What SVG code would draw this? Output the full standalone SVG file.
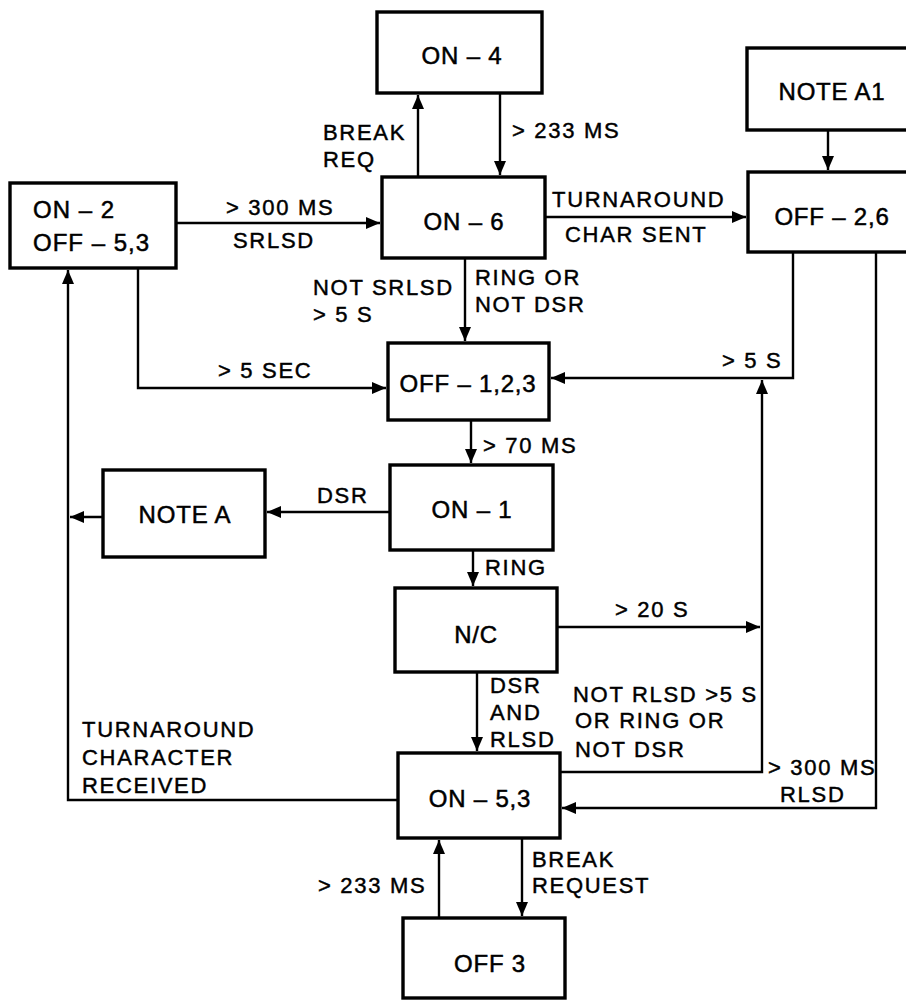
<svg xmlns="http://www.w3.org/2000/svg" width="906" height="1000" viewBox="0 0 906 1000">
<defs>
<style>
.box{fill:#fff;stroke:#000;stroke-width:3.4}
.n{font-family:"Liberation Sans",Arial,sans-serif;font-size:24px;letter-spacing:0.8px;fill:#000;stroke:#000;stroke-width:0.5;text-anchor:middle}
.nl{font-family:"Liberation Sans",Arial,sans-serif;font-size:24px;letter-spacing:1px;fill:#000;stroke:#000;stroke-width:0.5}
.l{font-family:"Liberation Sans",Arial,sans-serif;font-size:22px;letter-spacing:1.7px;fill:#000;stroke:#000;stroke-width:0.45}
.c{fill:none;stroke:#000;stroke-width:2.4}
</style>
<marker id="a" viewBox="0 0 14 12" refX="14" refY="6" markerWidth="14" markerHeight="12" orient="auto" markerUnits="userSpaceOnUse"><path d="M0,0 L14,6 L0,12 z" fill="#000"/></marker>
</defs>
<rect width="906" height="1000" fill="#fff"/>
<g id="connectors">
<path class="c" d="M418,177 V95" marker-end="url(#a)"/>
<path class="c" d="M500,93 V175" marker-end="url(#a)"/>
<path class="c" d="M176,223 H380" marker-end="url(#a)"/>
<path class="c" d="M545,217 H746" marker-end="url(#a)"/>
<path class="c" d="M828,130 V170" marker-end="url(#a)"/>
<path class="c" d="M465,258 V341" marker-end="url(#a)"/>
<path class="c" d="M138,268 V388 H386" marker-end="url(#a)"/>
<path class="c" d="M793,252 V378 H551" marker-end="url(#a)"/>
<path class="c" d="M471,420 V463" marker-end="url(#a)"/>
<path class="c" d="M390,512 H267" marker-end="url(#a)"/>
<path class="c" d="M103,517 H70" marker-end="url(#a)"/>
<path class="c" d="M398,800 H68 V270" marker-end="url(#a)"/>
<path class="c" d="M473,550 V586" marker-end="url(#a)"/>
<path class="c" d="M557,627 H760" marker-end="url(#a)"/>
<path class="c" d="M560,772 H762 V380" marker-end="url(#a)"/>
<path class="c" d="M477,672 V751" marker-end="url(#a)"/>
<path class="c" d="M876,252 V808 H562" marker-end="url(#a)"/>
<path class="c" d="M439,918 V840" marker-end="url(#a)"/>
<path class="c" d="M522,838 V916" marker-end="url(#a)"/>
</g>
<g id="on4"><rect class="box" x="377" y="12" width="165" height="81"/><text class="n" x="462" y="64">ON – 4</text></g>
<g id="on6"><rect class="box" x="382" y="177" width="163" height="81"/><text class="n" x="464" y="230">ON – 6</text></g>
<g id="on2"><rect class="box" x="10" y="183" width="166" height="85"/><text class="nl" x="33" y="218">ON – 2</text><text class="nl" x="33" y="251">OFF – 5,3</text></g>
<g id="notea1"><rect class="box" x="747" y="48" width="170" height="82"/><text class="n" x="832" y="100">NOTE A1</text></g>
<g id="off26"><rect class="box" x="748" y="172" width="170" height="80"/><text class="n" x="832" y="225">OFF – 2,6</text></g>
<g id="off123"><rect class="box" x="388" y="343" width="161" height="77"/><text class="n" x="468" y="392">OFF – 1,2,3</text></g>
<g id="on1"><rect class="box" x="390" y="465" width="163" height="85"/><text class="n" x="472" y="518">ON – 1</text></g>
<g id="notea"><rect class="box" x="103" y="470" width="162" height="87"/><text class="n" x="185" y="523">NOTE A</text></g>
<g id="nc"><rect class="box" x="395" y="588" width="162" height="84"/><text class="n" x="476" y="643">N/C</text></g>
<g id="on53"><rect class="box" x="398" y="753" width="162" height="85"/><text class="n" x="480" y="807">ON – 5,3</text></g>
<g id="off3"><rect class="box" x="403" y="918" width="162" height="80"/><text class="n" x="490" y="972">OFF 3</text></g>
<g id="labels">
<text class="l" x="323" y="140">BREAK</text>
<text class="l" x="323" y="167">REQ</text>
<text class="l" x="512" y="138">&gt; 233 MS</text>
<text class="l" x="226" y="215">&gt; 300 MS</text>
<text class="l" x="233" y="248">SRLSD</text>
<text class="l" x="552" y="207">TURNAROUND</text>
<text class="l" x="565" y="242">CHAR SENT</text>
<text class="l" x="313" y="295">NOT SRLSD</text>
<text class="l" x="313" y="322">&gt; 5 S</text>
<text class="l" x="475" y="285">RING OR</text>
<text class="l" x="475" y="312">NOT DSR</text>
<text class="l" x="218" y="378">&gt; 5 SEC</text>
<text class="l" x="722" y="368">&gt; 5 S</text>
<text class="l" x="483" y="453">&gt; 70 MS</text>
<text class="l" x="317" y="503">DSR</text>
<text class="l" x="485" y="575">RING</text>
<text class="l" x="615" y="617">&gt; 20 S</text>
<text class="l" x="490" y="693">DSR</text>
<text class="l" x="490" y="720">AND</text>
<text class="l" x="490" y="747">RLSD</text>
<text class="l" x="573" y="702">NOT RLSD &gt;5 S</text>
<text class="l" x="575" y="728">OR RING OR</text>
<text class="l" x="575" y="757">NOT DSR</text>
<text class="l" x="768" y="775">&gt; 300 MS</text>
<text class="l" x="780" y="802">RLSD</text>
<text class="l" x="82" y="737">TURNAROUND</text>
<text class="l" x="82" y="765">CHARACTER</text>
<text class="l" x="82" y="793">RECEIVED</text>
<text class="l" x="318" y="893">&gt; 233 MS</text>
<text class="l" x="532" y="867">BREAK</text>
<text class="l" x="532" y="893">REQUEST</text>
</g>
</svg>
